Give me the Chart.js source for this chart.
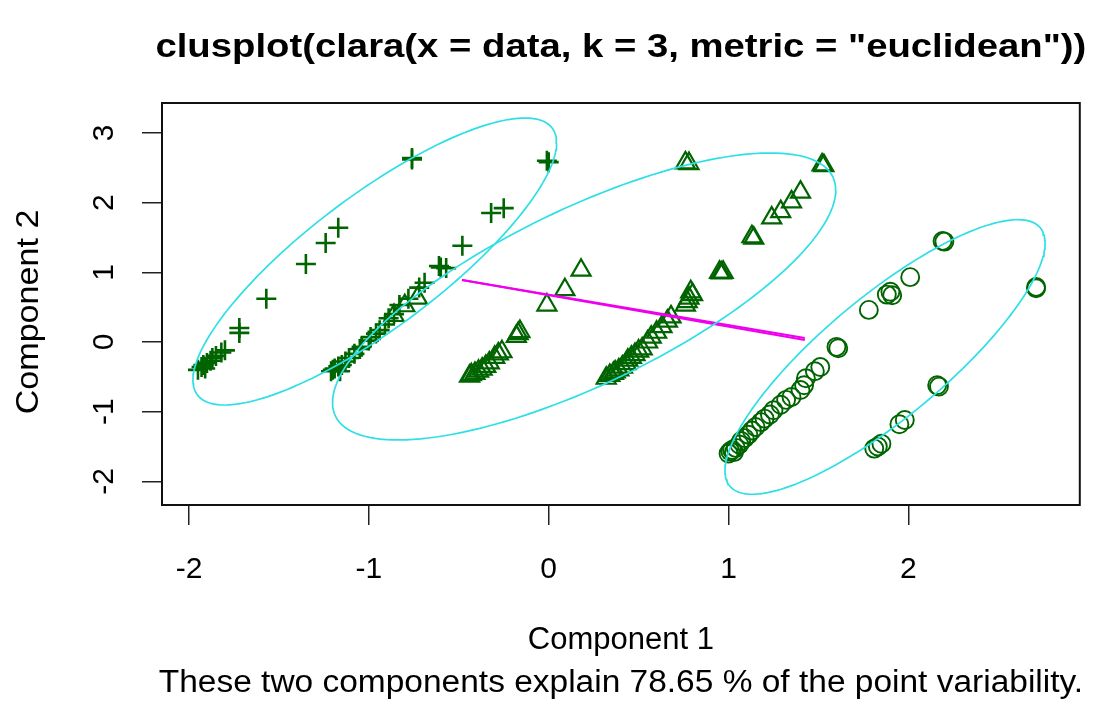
<!DOCTYPE html>
<html lang="en">
<head>
<meta charset="UTF-8">
<title>clusplot clara</title>
<script src="https://cdn.jsdelivr.net/npm/chart.js"></script>
<style>
  body { margin: 0; background: #fff; }
  #wrap { width: 1093px; height: 701px; position: relative; }
</style>
</head>
<body>
<div id="wrap"><canvas id="plot"></canvas></div>
<script>
// cluster 1 (+), cluster 2 (triangles), cluster 3 (circles): [component 1, component 2]
const crosses = [
  [-1.95, -0.40], [-1.93, -0.36], [-1.92, -0.33], [-1.91, -0.38], [-1.90, -0.30], [-1.88, -0.27],
  [-1.87, -0.23], [-1.85, -0.20], [-1.82, -0.15], [-1.80, -0.12], [-1.72, 0.20], [-1.72, 0.13],
  [-1.57, 0.62], [-1.35, 1.12], [-1.24, 1.42], [-1.17, 1.64], [-0.76, 2.64], [-0.76, 2.62],
  [-1.21, -0.42], [-1.20, -0.40], [-1.19, -0.38], [-1.17, -0.35], [-1.16, -0.42], [-1.15, -0.33],
  [-1.13, -0.28], [-1.11, -0.23], [-1.08, -0.17], [-1.05, -0.10], [-1.04, -0.07], [-1.00, 0.02],
  [-0.99, 0.07], [-0.96, 0.12], [-0.94, 0.17], [-0.91, 0.25], [-0.89, 0.34], [-0.86, 0.40],
  [-0.83, 0.53], [-0.78, 0.62], [-0.72, 0.78], [-0.69, 0.85], [-0.61, 1.09], [-0.60, 1.07],
  [-0.57, 1.06], [-0.48, 1.38], [-0.32, 1.85], [-0.25, 1.92], [0.00, 2.58], [-0.01, 2.60]
];
const triangles = [
  [-0.73, 0.63], [-0.80, 0.52], [-0.86, 0.38],
  [-0.44, -0.49], [-0.43, -0.47], [-0.41, -0.45], [-0.39, -0.42], [-0.37, -0.39], [-0.35, -0.35],
  [-0.33, -0.30], [-0.30, -0.22], [-0.28, -0.17], [-0.26, -0.14], [-0.18, 0.08], [-0.17, 0.12],
  [-0.16, 0.15], [-0.01, 0.53], [0.09, 0.75], [0.18, 1.03],
  [0.32, -0.52], [0.34, -0.48], [0.36, -0.45], [0.37, -0.43], [0.39, -0.40], [0.41, -0.36],
  [0.43, -0.31], [0.44, -0.26], [0.46, -0.22], [0.48, -0.18], [0.50, -0.13], [0.52, -0.10],
  [0.55, 0.00], [0.57, 0.07], [0.60, 0.14], [0.63, 0.22], [0.66, 0.30], [0.68, 0.36],
  [0.76, 0.53], [0.77, 0.58], [0.78, 0.63], [0.79, 0.72], [0.80, 0.68], [0.95, 1.00],
  [0.96, 0.99], [0.97, 1.00], [1.13, 1.51], [1.14, 1.49], [1.24, 1.78], [1.29, 1.87],
  [1.35, 2.01], [1.40, 2.15], [0.76, 2.57], [0.78, 2.56], [1.52, 2.54], [1.53, 2.53]
];
const circles = [
  [1.00, -1.60], [1.01, -1.57], [1.02, -1.55], [1.03, -1.58], [1.04, -1.52], [1.06, -1.47],
  [1.07, -1.42], [1.09, -1.38], [1.11, -1.33], [1.13, -1.27], [1.15, -1.22], [1.18, -1.15],
  [1.20, -1.10], [1.23, -1.04], [1.25, -0.98], [1.29, -0.90], [1.32, -0.83], [1.35, -0.79],
  [1.40, -0.69], [1.42, -0.62], [1.43, -0.52], [1.48, -0.42], [1.51, -0.36], [1.60, -0.07],
  [1.61, -0.09], [1.78, 0.46], [1.88, 0.68], [1.90, 0.72], [1.91, 0.67], [2.01, 0.93],
  [2.19, 1.45], [2.20, 1.44], [2.71, 0.79], [2.71, 0.77], [2.16, -0.62], [2.17, -0.64],
  [1.95, -1.18], [1.98, -1.12], [1.83, -1.50], [1.85, -1.46], [1.81, -1.53]
];

// cluster ellipses: centre, half extent along x and y, correlation
const ellCx = [-0.967, 0.197, 1.87];
const ellCy = [1.155, 0.653, -0.215];
const ellHx = [1.011, 1.399, 0.89];
const ellHy = [2.059, 2.059, 1.97];
const ellRho = [0.826, 0.74, 0.83];

// segments between clusters
const segFrom = [[-0.482, 0.889], [-0.482, 0.889]];
const segTo = [[1.424, 0.029], [1.424, 0.058]];

const xTicks = [-2, -1, 0, 1, 2];
const yTicks = [-2, -1, 0, 1, 2, 3];
const xRange = [-2.15, 2.953];
const yRange = [-2.339, 3.429];

const titleText = 'clusplot(clara(x = data, k = 3, metric = "euclidean"))';
const xTitle = 'Component 1';
const yTitle = 'Component 2';
const subText = 'These two components explain 78.65 % of the point variability.';

const FONT = '"Liberation Sans", Arial, Helvetica, sans-serif';
const GREEN = '#006400';
const CYAN = '#2fdfe6';

function ellipsePoints(i) {
  const pts = [];
  const s = Math.sqrt(1 - ellRho[i] * ellRho[i]);
  for (let k = 0; k <= 160; k++) {
    const t = k / 160 * 2 * Math.PI;
    pts.push({
      x: ellCx[i] + ellHx[i] * Math.cos(t),
      y: ellCy[i] + ellHy[i] * (ellRho[i] * Math.cos(t) + s * Math.sin(t))
    });
  }
  return pts;
}

const toXY = arr => arr.map(p => ({ x: p[0], y: p[1] }));

const datasets = [];
for (let i = 0; i < ellCx.length; i++) {
  datasets.push({
    data: ellipsePoints(i), showLine: true, pointRadius: 0,
    borderColor: CYAN, borderWidth: 1.7, tension: 0, fill: false
  });
}
segFrom.forEach((p, i) => {
  datasets.push({
    data: toXY([p, segTo[i]]), showLine: true, pointRadius: 0,
    borderColor: '#ee00ee', borderWidth: 2, fill: false
  });
});
datasets.push({ data: toXY(crosses), pointStyle: 'cross', pointRadius: 10,
  borderColor: GREEN, borderWidth: 2.6, backgroundColor: 'transparent' });
datasets.push({ data: toXY(triangles), pointStyle: 'triangle', pointRadius: 11,
  borderColor: GREEN, borderWidth: 2.2, backgroundColor: 'transparent' });
datasets.push({ data: toXY(circles), pointStyle: 'circle', pointRadius: 9,
  borderColor: GREEN, borderWidth: 1.9, backgroundColor: 'transparent' });

// text drawn a little wider than the canvas font, as in the source image
function wideText(c, text, x, y, sx) {
  c.save();
  c.translate(x, y);
  c.scale(sx, 1);
  c.fillText(text, 0, 0);
  c.restore();
}

const decor = {
  id: 'decor',
  beforeDraw(chart) {
    const c = chart.ctx;
    c.save();
    c.fillStyle = '#fff';
    c.fillRect(0, 0, chart.width, chart.height);
    c.restore();
  },
  afterDraw(chart) {
    const c = chart.ctx;
    const a = chart.chartArea;
    const ys = chart.scales.y;
    const mid = (a.left + a.right) / 2;
    c.save();
    c.strokeStyle = '#111';
    c.lineWidth = 2;
    c.strokeRect(a.left, a.top, a.right - a.left, a.bottom - a.top);

    c.fillStyle = '#000';
    c.textAlign = 'center';
    c.textBaseline = 'middle';
    c.font = 'bold 33px ' + FONT;
    wideText(c, titleText, mid, 48, 1.16);
    c.font = '31px ' + FONT;
    wideText(c, xTitle, mid, 640, 1.0);
    wideText(c, subText, mid, 683, 1.08);

    // y tick labels, parallel to the axis as in base R
    c.font = '30px ' + FONT;
    yTicks.forEach(v => {
      c.save();
      c.translate(105, ys.getPixelForValue(v));
      c.rotate(-Math.PI / 2);
      c.fillText(String(v), 0, 0);
      c.restore();
    });
    c.font = '31px ' + FONT;
    c.save();
    c.translate(29, (a.top + a.bottom) / 2 + 8);
    c.rotate(-Math.PI / 2);
    c.scale(1.1, 1);
    c.fillText(yTitle, 0, 0);
    c.restore();
    c.restore();
  }
};

new Chart(document.getElementById('plot'), {
  type: 'scatter',
  data: { datasets },
  options: {
    responsive: true,
    maintainAspectRatio: false,
    animation: false,
    layout: { padding: { top: 103, right: 10, bottom: 0, left: 0 } },
    plugins: { legend: { display: false }, tooltip: { enabled: false } },
    scales: {
      x: {
        type: 'linear', min: xRange[0], max: xRange[1],
        afterFit: s => { s.height = 196; },
        afterBuildTicks: s => { s.ticks = xTicks.map(v => ({ value: v })); },
        grid: { drawOnChartArea: false, drawTicks: true, tickLength: 20, color: '#222', lineWidth: 1.5 },
        border: { display: false },
        ticks: { color: '#000', font: { family: FONT, size: 30 }, padding: 27, maxRotation: 0 }
      },
      y: {
        type: 'linear', min: yRange[0], max: yRange[1],
        afterFit: s => { s.width = 162; },
        afterBuildTicks: s => { s.ticks = yTicks.map(v => ({ value: v })); },
        grid: { drawOnChartArea: false, drawTicks: true, tickLength: 20, color: '#222', lineWidth: 1.5 },
        border: { display: false },
        ticks: { display: false }
      }
    }
  },
  plugins: [decor]
});
</script>
</body>
</html>
